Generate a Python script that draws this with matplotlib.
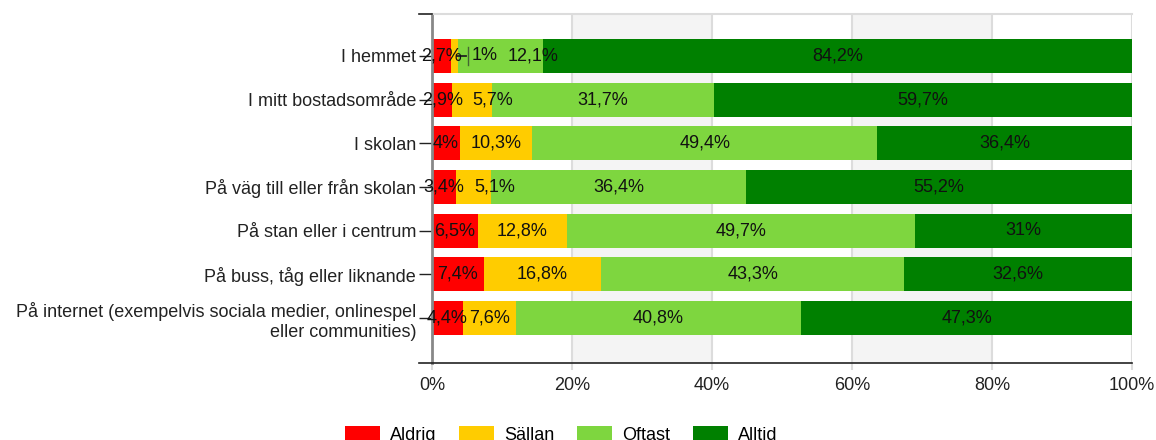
import numpy as np
import matplotlib.pyplot as plt
from matplotlib.patches import Patch

plt.rcParams['font.family'] = ['Liberation Sans', 'DejaVu Sans']

# Data (percent)
categories = [
    "I hemmet",
    "I mitt bostadsområde",
    "I skolan",
    "På väg till eller från skolan",
    "På stan eller i centrum",
    "På buss, tåg eller liknande",
    "På internet (exempelvis sociala medier, onlinespel\neller communities)",
]
series_names = ["Aldrig", "Sällan", "Oftast", "Alltid"]
aldrig = [2.7, 2.9, 4, 3.4, 6.5, 7.4, 4.4]
sallan = [1, 5.7, 10.3, 5.1, 12.8, 16.8, 7.6]
oftast = [12.1, 31.7, 49.4, 36.4, 49.7, 43.3, 40.8]
alltid = [84.2, 59.7, 36.4, 55.2, 31, 32.6, 47.3]
colors = ["#ff0000", "#ffcc00", "#7ed63f", "#008000"]

values = np.array([aldrig, sallan, oftast, alltid], dtype=float)
# stacked to 100 %
norm = values / values.sum(axis=0) * 100

FS = 13

fig = plt.figure(figsize=(11.56, 4.4), dpi=100)
ax = fig.add_axes([432 / 1156, 1 - 363 / 440, 700 / 1156, 349 / 440])

y = np.arange(len(categories))
ax.set_xlim(0, 100)
ax.set_ylim(7.03, -0.96)

# background bands and grid
for a, b in [(20, 40), (60, 80)]:
    ax.axvspan(a, b, color="#f4f4f4", zorder=0, lw=0)
for g in [20, 40, 60, 80, 100]:
    ax.axvline(g, color="#dcdcdc", lw=1.5, zorder=0.5)

labels = [[] for _ in categories]
left = np.zeros(len(categories))
for i, name in enumerate(series_names):
    ax.barh(y, norm[i], left=left, height=0.78, color=colors[i], label=name, zorder=2)
    for j in range(len(categories)):
        txt = f"{values[i, j]:g}".replace(".", ",") + "%"
        cx = left[j] + norm[i, j] / 2
        t = ax.text(cx, y[j], txt, ha="center", va="center", fontsize=FS, color="#111111", zorder=5)
        labels[j].append((t, cx, norm[i, j]))
    left += norm[i]

# push overlapping labels to the right (like the original chart does)
fig.canvas.draw()
r = fig.canvas.get_renderer()
px = 700 / 100  # pixels per percent
for j, row in enumerate(labels):
    prev_right = None
    for t, cx, w in row:
        bb = t.get_window_extent(r)
        if prev_right is not None and bb.x0 < prev_right:
            shift = prev_right + 10 - bb.x0
            newx = cx + shift / px
            t.set_x(newx)
            if w < 2:
                # very thin segment: short connector to the moved label
                x_end = newx - bb.width / 2 / px - 0.5
                ax.plot([cx + 0.3, x_end - 0.3], [y[j], y[j]], color="#222222", lw=1.3, zorder=4)
                ax.plot([x_end, x_end], [y[j] - 0.2, y[j] + 0.2], color="#446633", lw=1, zorder=4)
            bb = t.get_window_extent(r)
        prev_right = bb.x1

ax.set_yticks(y)
ax.set_yticklabels(categories, fontsize=FS, color="#222222", multialignment="right")
ax.tick_params(axis="y", length=9.4, width=1, color="#222222", pad=2)
ax.set_xticks([0, 20, 40, 60, 80, 100])
ax.set_xticklabels(["0%", "20%", "40%", "60%", "80%", "100%"], fontsize=FS, color="#222222")
ax.tick_params(axis="x", length=5, width=1.5, color="#dcdcdc", pad=5)

ax.spines["right"].set_visible(False)
ax.spines["top"].set_color("#dcdcdc")
ax.spines["top"].set_linewidth(1.5)
ax.spines["left"].set_color("#888888")
ax.spines["left"].set_linewidth(2)
ax.spines["bottom"].set_visible(False)

# axis line at bottom extending past the left spine, and top-left tick
ext = 13 / 700
ax.plot([-ext, 1], [0, 0], transform=ax.transAxes, color="#222222", lw=1.2, clip_on=False, zorder=6)
ax.plot([-ext, 0], [1, 1], transform=ax.transAxes, color="#222222", lw=1.2, clip_on=False, zorder=6)

handles = [Patch(facecolor=c, edgecolor="none") for c in colors]
fig.legend(handles, series_names, loc="upper left", bbox_to_anchor=(336 / 1156, 1 - 417 / 440),
           ncol=4, frameon=False, fontsize=FS, handlelength=1.95, handleheight=0.9,
           handletextpad=0.55, columnspacing=1.25, borderpad=0)

fig.savefig("out.png", dpi=100)
